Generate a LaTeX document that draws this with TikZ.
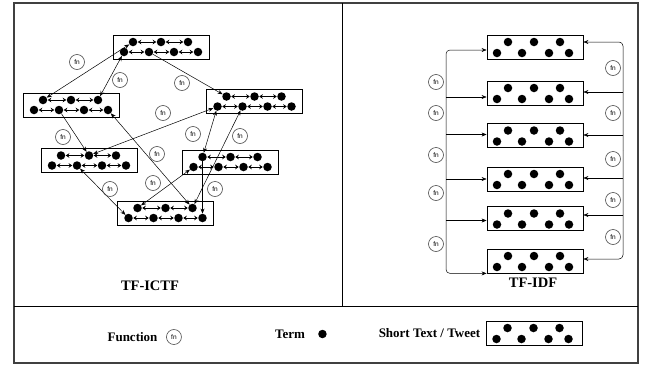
\documentclass[tikz,border=0pt]{standalone}
\usepackage{fontspec}
\setmainfont{Liberation Serif}
\setsansfont{Liberation Sans}
\usetikzlibrary{positioning, arrows.meta, calc}

\begin{document}
\begin{tikzpicture}[x=1pt, y=-1pt,
    tweet/.style={rectangle, draw=black, line width=0.8pt, minimum width=96pt,
                  minimum height=24pt, inner sep=0pt},
    term/.style={circle, fill=black, minimum size=8.5pt, inner sep=0pt},
    fn/.style={circle, draw=black!70, line width=0.6pt, minimum size=15pt,
               inner sep=0pt, font=\sffamily\fontsize{6.5}{6.5}\selectfont},
    link/.style={{Stealth[length=5pt, width=4pt]}-{Stealth[length=5pt, width=4pt]}, line width=0.5pt},
    flow/.style={-{Stealth[length=5pt, width=4pt]}, line width=0.5pt},
    pair/.style={{Stealth[length=3.5pt, width=4.5pt]}-{Stealth[length=3.5pt, width=4.5pt]},
                 line width=0.6pt, shorten <=0.3pt, shorten >=0.3pt},
    title/.style={font=\bfseries\fontsize{14.5}{16}\selectfont},
    legendtext/.style={font=\bfseries\fontsize{13}{15}\selectfont}
]
    \useasboundingbox (0,0) rectangle (649,370);

    % Frame
    \draw[line width=1.6pt, draw=black!75] (14,3) rectangle (638,363);
    \draw[line width=1pt] (342,3) -- (342,306);
    \draw[line width=1pt] (14,306) -- (638,306);

    % TF-ICTF tweets, terms linked inside each tweet
    \foreach \name/\x/\y in {A/161/47, B/71/105, C/254.5/101.5, D/89/160.5, E/230.5/162, F/165.5/213} {
        \node[tweet] (\name) at (\x,\y) {};
        \foreach \i/\dx in {1/-28, 2/0, 3/27}
            \node[term] (\name-t\i) at ({\x+\dx},{\y-5}) {};
        \foreach \i/\dx in {1/-37, 2/-12, 3/13, 4/37}
            \node[term] (\name-b\i) at ({\x+\dx},{\y+5}) {};
        \foreach \i/\j in {1/2, 2/3}
            \draw[pair] (\name-t\i) -- (\name-t\j);
        \foreach \i/\j in {1/2, 2/3, 3/4}
            \draw[pair] (\name-b\i) -- (\name-b\j);
    }

    % Links between tweets
    \draw[link] (A-t1) -- (B-t1);
    \draw[link] (A-b1) -- (B-t3);
    \draw[flow] (A-b2) -- (C-t1);
    \draw[link] (C-b1) -- (D-t2);
    \draw[flow] (B-b2) -- (D-t2);
    \draw[link] (F-t3) -- (B-b4);
    \draw[link] (D-b2) -- (F-b1);
    \draw[link] (E-b1) -- (F-t1);
    \draw[link] (E-t1) -- (C-b1);
    \draw[link] (C-b2) -- (F-t3);
    \draw[flow] (E-t1) -- (F-b4);

    % Functions on the links
    \foreach \n/\x/\y in {1/77/62, 2/120/80, 3/182/83, 4/163/113, 5/63/137, 6/157/154,
                          7/110/189, 8/153/183, 9/193/134, 10/240/136, 11/215/189}
        \node[fn] (f\n) at (\x,\y) {fn};

    \node[title] (ictf) at (150,286) {TF-ICTF};

    % TF-IDF tweets
    \foreach \name/\y in {I1/47, I2/93, I3/135.5, I4/179, I5/218.5, I6/261} {
        \node[tweet] (\name) at (535,\y) {};
        \foreach \i/\dx in {1/-27, 2/-1, 3/25}
            \node[term] (\name-t\i) at ({535+\dx},{\y-5}) {};
        \foreach \i/\dx in {1/-38, 2/-13, 3/14, 4/34}
            \node[term] (\name-b\i) at ({535+\dx},{\y+6}) {};
    }

    % Left and right function bars
    \coordinate (lbar) at (446,160);
    \coordinate (rbar) at (623,150);
    \draw[flow, rounded corners=4pt] (lbar) |- ($(I1.west)+(0,3)$);
    \draw[flow, rounded corners=4pt] (lbar) |- (I6.south west);
    \foreach \b/\dy in {I2/4, I3/-1, I4/0, I5/2}
        \draw[flow] ($(lbar |- \b.west)+(0,\dy)$) -- ($(\b.west)+(0,\dy)$);
    \draw[flow, rounded corners=4pt] (rbar) |- ($(I1.east)+(0,-5)$);
    \draw[flow, rounded corners=4pt] (rbar) |- ($(I6.east)+(0,-2)$);
    \foreach \b/\dy in {I2/-1, I3/-0.5, I4/-1, I5/-3.5}
        \draw[flow] ($(rbar |- \b.east)+(0,\dy)$) -- ($(\b.east)+(0,\dy)$);

    \foreach \n/\y in {1/82, 2/113, 3/155, 4/193, 5/244}
        \node[fn] (lf\n) at (436,\y) {fn};
    \foreach \n/\y in {1/68, 2/113, 3/159, 4/200, 5/237}
        \node[fn] (rf\n) at (613,\y) {fn};

    \node[title] (idf) at (533,283) {TF-IDF};

    % Legend
    \node[legendtext] (lfunc) at (132.5,337) {Function};
    \node[fn, right=13pt of lfunc.east, anchor=center] (lfn) {fn};
    \node[legendtext] (lterm) at (290,334) {Term};
    \node[term, right=14pt of lterm.east, anchor=center] (ldot) {};
    \node[legendtext] (ltweet) at (429.5,333) {Short Text / Tweet};
    \node[tweet] (L) at (534.5,333) {};
    \foreach \i/\dx in {1/-27, 2/-1, 3/25}
        \node[term] (L-t\i) at ({534.5+\dx},328) {};
    \foreach \i/\dx in {1/-38, 2/-13, 3/14, 4/34}
        \node[term] (L-b\i) at ({534.5+\dx},339) {};

\end{tikzpicture}
\end{document}
